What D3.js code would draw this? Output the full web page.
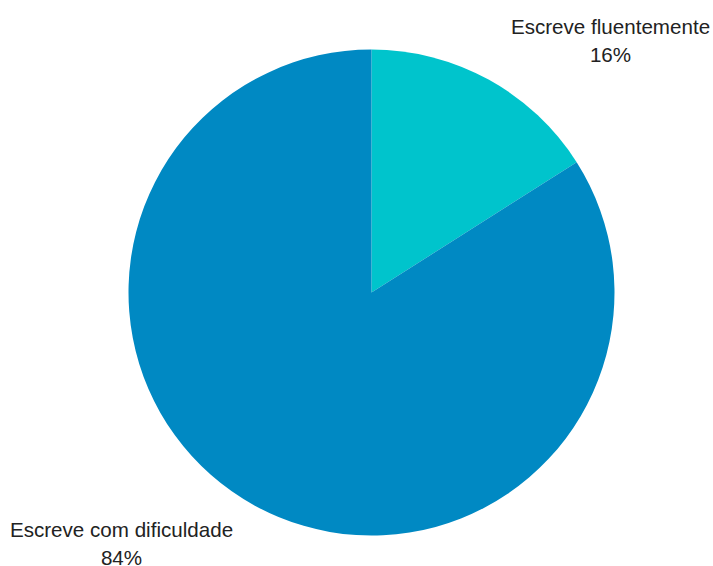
<!DOCTYPE html>
<html><head><meta charset="utf-8">
<script src="https://cdn.jsdelivr.net/npm/d3@7"></script>
<style>body{margin:0;background:#fff}svg{display:block}</style>
</head><body>
<script>
const categories = ["Escreve fluentemente", "Escreve com dificuldade"];
const values = [16, 84];
const labels = ["16%", "84%"];
const colors = ["#00c4cc", "#0089c3"];

const W = 713, H = 566, cx = 371.5, cy = 292.5, R = 243;
const svg = d3.select("body").append("svg").attr("width", W).attr("height", H);
const data = categories.map((c, i) => ({c, v: values[i], l: labels[i], col: colors[i]}));
const pie = d3.pie().value(d => d.v).sort(null);
const arc = d3.arc().innerRadius(0).outerRadius(R);
const g = svg.append("g").attr("transform", `translate(${cx},${cy})`);
g.selectAll("path").data(pie(data)).join("path").attr("d", arc).attr("fill", d => d.data.col);

const labelPos = [{x: 610.5, y: 34}, {x: 121.5, y: 537}];
data.forEach((d, i) => {
  const t = svg.append("text").attr("x", labelPos[i].x).attr("y", labelPos[i].y)
    .attr("text-anchor", "middle").attr("font-family", "'Liberation Sans', Arial, sans-serif")
    .attr("font-size", 20.6).attr("fill", "#222");
  t.append("tspan").attr("x", labelPos[i].x).text(d.c);
  t.append("tspan").attr("x", labelPos[i].x).attr("dy", 28).text(d.l);
});
</script>
</body></html>
